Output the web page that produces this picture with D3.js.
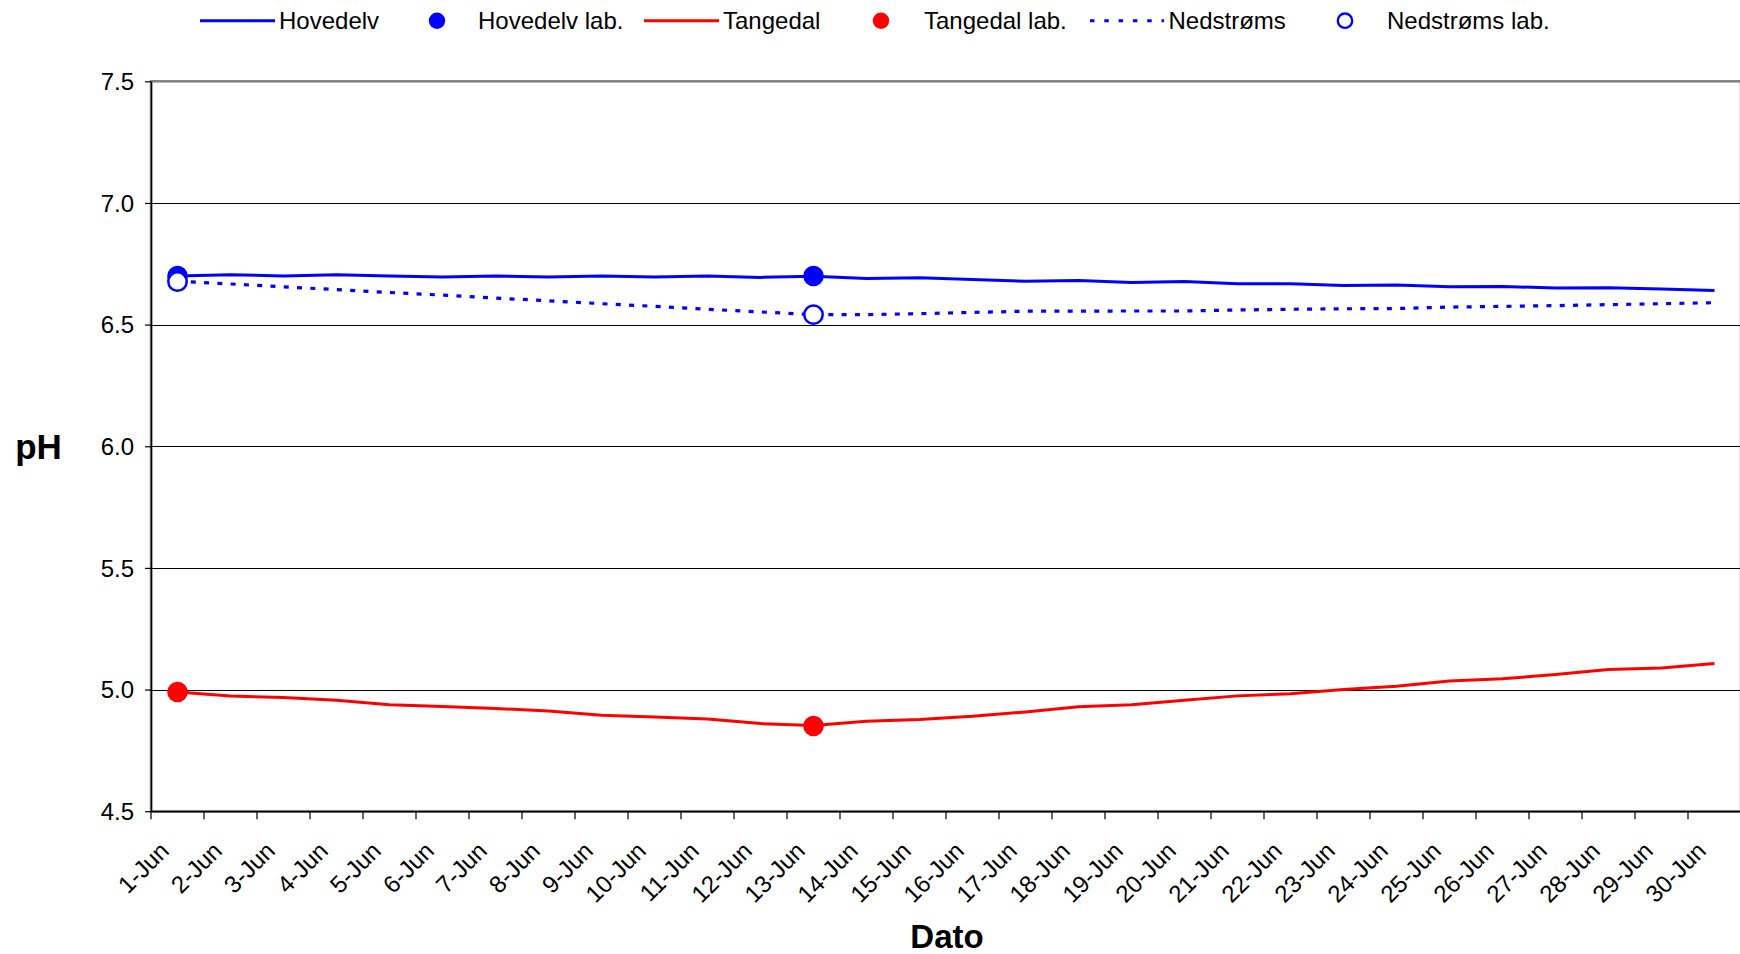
<!DOCTYPE html>
<html><head><meta charset="utf-8">
<script src="https://cdn.jsdelivr.net/npm/d3@7"></script>
<style>html,body{margin:0;padding:0;background:#fff;overflow:hidden}
text{font-family:"Liberation Sans",Arial,sans-serif;fill:#000}</style>
</head><body><svg id="c" width="1740" height="954"></svg>
<script>
// ---- data ----
const days = ["1-Jun","2-Jun","3-Jun","4-Jun","5-Jun","6-Jun","7-Jun","8-Jun","9-Jun","10-Jun",
  "11-Jun","12-Jun","13-Jun","14-Jun","15-Jun","16-Jun","17-Jun","18-Jun","19-Jun","20-Jun",
  "21-Jun","22-Jun","23-Jun","24-Jun","25-Jun","26-Jun","27-Jun","28-Jun","29-Jun","30-Jun"];
const hovedelv = [6.700,6.705,6.700,6.705,6.700,6.696,6.700,6.696,6.700,6.696,6.700,6.694,6.699,
  6.689,6.693,6.685,6.678,6.681,6.673,6.677,6.668,6.668,6.661,6.663,6.656,6.657,6.650,6.651,6.646,6.640];
const tangedal = [4.990,4.973,4.967,4.956,4.938,4.930,4.922,4.912,4.894,4.887,4.879,4.860,4.852,
  4.870,4.877,4.890,4.908,4.929,4.938,4.956,4.974,4.983,5.000,5.014,5.035,5.044,5.062,5.082,5.089,5.107];
const nedstroms = [6.678,6.667,6.655,6.644,6.632,6.621,6.609,6.598,6.586,6.575,6.563,6.552,6.541,
  6.541,6.545,6.550,6.555,6.555,6.556,6.556,6.560,6.563,6.565,6.566,6.572,6.575,6.578,6.582,6.586,6.590];
const labDays = ["1-Jun","13-Jun"];
const hovedelvLab = [6.70, 6.70];
const tangedalLab = [4.99, 4.85];
const nedstromsLab = [6.677, 6.541];
const yTicks = [4.5,5.0,5.5,6.0,6.5,7.0,7.5];
const legendNames = ["Hovedelv","Hovedelv lab.","Tangedal","Tangedal lab.","Nedstrøms","Nedstrøms lab."];
const xTitle = "Dato", yTitle = "pH";

// ---- layout ----
const svg = d3.select("#c");
const L = 151, R = 1741, T = 81.3, B = 811.2;
const BLUE = "#0000ff", RED = "#ff0000";
const x = d3.scaleBand().domain(days).range([L, R]).padding(0);
const y = d3.scaleLinear().domain([4.5, 7.5]).range([B, T]);
const cx = d => x(d) + x.bandwidth() / 2;

// plot border
svg.append("rect").attr("x", L).attr("y", T).attr("width", R - L).attr("height", B - T)
  .attr("fill", "none").attr("stroke", "#808080").attr("stroke-width", 2.5);

// gridlines
svg.append("g").selectAll("line").data(yTicks.filter(v => v > 4.5 && v < 7.5)).join("line")
  .attr("x1", L).attr("x2", R).attr("y1", d => Math.round(y(d)) + 0.5).attr("y2", d => Math.round(y(d)) + 0.5)
  .attr("stroke", "#000").attr("stroke-width", 1.2);

// y axis
const yAxis = d3.axisLeft(y).tickValues(yTicks).tickFormat(d3.format(".1f")).tickSize(6).tickSizeOuter(0);
const gy = svg.append("g").attr("transform", `translate(${L},0)`).call(yAxis);
gy.select(".domain").attr("stroke", "#000").attr("stroke-width", 1.5);
gy.selectAll(".tick line").attr("stroke", "#000").attr("stroke-width", 1.2);
gy.selectAll(".tick text").attr("x", -17).attr("dy", "0.34em")
  .style("font-size", "24px").style("font-family", '"Liberation Sans",Arial,sans-serif');

// x axis
const xAxis = d3.axisBottom(x).tickSize(8).tickSizeOuter(0);
const gx = svg.append("g").attr("transform", `translate(0,${B})`).call(xAxis);
gx.select(".domain").attr("stroke", "#000").attr("stroke-width", 1.5);
gx.selectAll(".tick line").attr("transform", `translate(${-x.bandwidth() / 2},0)`)
  .attr("stroke", "#000").attr("stroke-width", 1.2);
gx.selectAll(".tick text").attr("x", null).attr("y", null).attr("dy", null)
  .attr("text-anchor", "end")
  .attr("transform", "translate(-7,41) rotate(-45)")
  .style("font-size", "24px").style("font-family", '"Liberation Sans",Arial,sans-serif');

// axis titles
svg.append("text").attr("x", 38.5).attr("y", 459).attr("text-anchor", "middle")
  .style("font-size", "35px").style("font-weight", "bold").text(yTitle);
svg.append("text").attr("x", 947).attr("y", 948).attr("text-anchor", "middle")
  .style("font-size", "33px").style("font-weight", "bold").text(xTitle);

// series lines
const line = d3.line().x((d, i) => cx(days[i])).y(d => y(d));
svg.append("path").datum(hovedelv).attr("d", line).attr("fill", "none")
  .attr("stroke", BLUE).attr("stroke-width", 3).attr("stroke-linejoin", "round");
svg.selectAll(".hlab").data(hovedelvLab).join("circle").attr("class", "hlab")
  .attr("cx", (d, i) => cx(labDays[i])).attr("cy", d => y(d)).attr("r", 10.3).attr("fill", BLUE);
svg.append("path").datum(tangedal).attr("d", line).attr("fill", "none")
  .attr("stroke", RED).attr("stroke-width", 3).attr("stroke-linejoin", "round");
svg.selectAll(".tlab").data(tangedalLab).join("circle").attr("class", "tlab")
  .attr("cx", (d, i) => cx(labDays[i])).attr("cy", d => y(d)).attr("r", 10.3).attr("fill", RED);
svg.append("path").datum(nedstroms).attr("d", line).attr("fill", "none")
  .attr("stroke", BLUE).attr("stroke-width", 3.2).attr("stroke-dasharray", "5,8.3");
svg.selectAll(".nlab").data(nedstromsLab).join("circle").attr("class", "nlab")
  .attr("cx", (d, i) => cx(labDays[i])).attr("cy", d => y(d)).attr("r", 9.2)
  .attr("fill", "#fff").attr("stroke", BLUE).attr("stroke-width", 2.5);

// legend
const legY = 20.7;
const legItems = [
  {type: "line", x0: 200, x1: 275, tx: 279, color: BLUE},
  {type: "dot", cx: 437, tx: 478, color: BLUE},
  {type: "line", x0: 644, x1: 719, tx: 723, color: RED},
  {type: "dot", cx: 881, tx: 924, color: RED},
  {type: "dash", x0: 1089, x1: 1164, tx: 1168.5, color: BLUE},
  {type: "open", cx: 1345, tx: 1387, color: BLUE}
];
const lg = svg.append("g");
legItems.forEach((it, i) => {
  if (it.type === "line" || it.type === "dash") {
    const l = lg.append("line").attr("x1", it.x0).attr("x2", it.x1).attr("y1", legY).attr("y2", legY)
      .attr("stroke", it.color).attr("stroke-width", 3);
    if (it.type === "dash") l.attr("stroke-dasharray", "4.5,9.8").attr("x1", it.x0 + 1);
  } else if (it.type === "dot") {
    lg.append("circle").attr("cx", it.cx).attr("cy", legY).attr("r", 8.2).attr("fill", it.color);
  } else {
    lg.append("circle").attr("cx", it.cx).attr("cy", legY).attr("r", 7.2).attr("fill", "#fff")
      .attr("stroke", it.color).attr("stroke-width", 2.4);
  }
  lg.append("text").attr("x", it.tx).attr("y", legY + 8.6).style("font-size", "24px").text(legendNames[i]);
});
</script></body></html>
